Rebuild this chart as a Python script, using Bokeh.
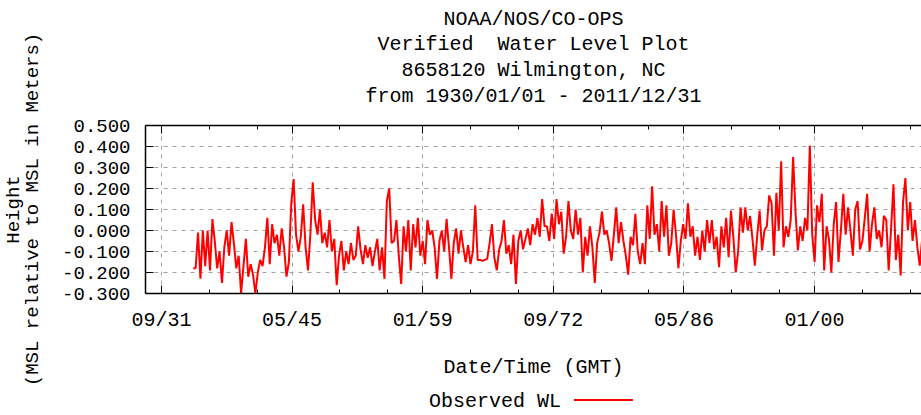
from datetime import datetime

from bokeh.plotting import figure
from bokeh.layouts import column
from bokeh.models import (Range1d, FixedTicker, DatetimeAxis, DatetimeTickFormatter,
                          PrintfTickFormatter, Title, Label, ColumnDataSource)
from bokeh.embed import file_html
from bokeh.resources import INLINE

# ---------------- data ----------------
title_lines = ["NOAA/NOS/CO-OPS", "Verified\u00a0 Water Level Plot",
               "8658120 Wilmington, NC", "from 1930/01/01 - 2011/12/31"]
x_title = "Date/Time (GMT)"
y_title = "Height\n(MSL relative to MSL in Meters)"
series_name = "Observed WL"

first_year = 1935          # quarterly values, Jan/Apr/Jul/Oct
wl_1935_1953 = [
    -0.18, -0.18, -0.01, -0.23,   0.00, -0.17, 0.00, -0.19,
    0.054, -0.05, -0.18, -0.10,   -0.25, -0.08, 0.00, -0.12,
    0.04, -0.06, -0.18, -0.12,    -0.30, -0.17, -0.04, -0.22,
    -0.16, -0.21, -0.30, -0.20,   -0.14, -0.17, -0.08, 0.06,
    -0.16, 0.03, -0.06, -0.02,    -0.12, 0.01, -0.08, -0.22,
    -0.15, 0.13, 0.245, -0.02,    -0.10, -0.03, 0.125, -0.08,
    -0.19, -0.02, 0.23, 0.05,     -0.02, 0.10, -0.06, -0.01,
    -0.08, 0.05, -0.10, -0.04,    -0.26, -0.12, -0.05, -0.19,
    -0.10, -0.16, -0.06, -0.14,   -0.12, 0.02, -0.09, -0.16,
    -0.07, -0.13, -0.08, -0.17,
]
wl_1954_1971 = [
    -0.10, -0.04, -0.19, -0.08,   -0.23, 0.14, 0.20, -0.06,
    -0.05, 0.05, -0.12, -0.255,   0.02, -0.10, 0.05, -0.19,
    0.03, -0.08, 0.06, -0.12,     -0.05, -0.16, 0.05, -0.02,
    0.00, -0.08, -0.23, -0.05,    0.00, -0.10, 0.055, -0.08,
    -0.23, -0.06, 0.01, -0.11,    0.00, -0.08, -0.15, -0.07,
    -0.16, -0.10, 0.12, -0.14,    -0.14, -0.145, -0.14, -0.135,
    -0.06, 0.03, -0.13, -0.19,    -0.09, -0.05, 0.05, -0.11,
    -0.07, -0.16, -0.02, -0.255,  -0.05, 0.00, -0.09, -0.04,
    0.01, -0.07, 0.03, -0.02,     0.06, -0.03, 0.15, 0.02,
]
wl_1972_1990 = [
    0.02, -0.05, 0.08, -0.04,     0.15, 0.03, 0.09, -0.11,
    -0.03, 0.14, 0.00, -0.04,     0.10, -0.02, 0.06, -0.20,
    -0.03, -0.12, 0.02, -0.08,    -0.25, -0.06, -0.01, 0.09,
    -0.02, 0.00, -0.06, -0.145,   -0.02, 0.11, -0.06, 0.04,
    -0.05, -0.12, -0.21, -0.03,   -0.07, 0.08, -0.10, -0.16,
    -0.06, -0.16, 0.12, -0.04,    0.21, -0.02, 0.03, -0.10,
    0.14, -0.03, 0.12, -0.12,     -0.06, 0.10, -0.02, -0.18,
    -0.05, 0.03, -0.04, 0.13,     -0.03, 0.02, -0.12, -0.03,
    -0.14, 0.00, -0.10, 0.05,     -0.06, 0.05, -0.09, -0.03,
    -0.175, 0.02, -0.08, 0.06,
]
wl_1991_2011 = [
    -0.127, 0.095, -0.03, -0.20,  -0.10, 0.11, -0.01, 0.11,
    0.00, 0.07, -0.04, -0.167,    -0.02, 0.095, -0.095, 0.00,
    0.02, 0.167, 0.13, -0.12,     0.18, 0.00, 0.33, -0.08,
    0.02, -0.03, 0.05, 0.35,      0.09, -0.095, 0.02, -0.05,
    0.06, 0.00, 0.405, -0.02,     -0.15, 0.12, 0.04, 0.175,
    -0.19, 0.02, -0.04, -0.20,    0.03, 0.135, -0.15, 0.00,
    0.175, -0.02, 0.11, 0.00,     -0.12, 0.10, 0.14, -0.09,
    -0.05, 0.06, 0.175, -0.10,    0.03, 0.11, -0.04, 0.00,
    -0.08, 0.07, 0.05, -0.19,     0.01, 0.22, -0.14, -0.02,
    -0.214, 0.135, 0.25, 0.00,    0.135, -0.05, 0.05, -0.08,
    -0.167, -0.04, -0.10, -0.02,
]
wl_values = wl_1935_1953 + wl_1954_1971 + wl_1972_1990 + wl_1991_2011

x_tick_dates = [(1931, 9), (1945, 5), (1959, 1), (1972, 9), (1986, 5), (2000, 1)]
x_tick_labels = ["09/31", "05/45", "01/59", "09/72", "05/86", "01/00"]
x_minor_dates = [(1936, 9), (1941, 9), (1950, 5), (1955, 5), (1964, 1), (1969, 1),
                 (1977, 9), (1982, 9), (1991, 5), (1996, 5), (2005, 1), (2010, 1)]
y_ticks = [-0.3, -0.2, -0.1, 0.0, 0.1, 0.2, 0.3, 0.4, 0.5]

# ---------------- helpers ----------------
EPOCH = datetime(1970, 1, 1)


def ms(d):
    return (d - EPOCH).total_seconds() * 1000.0


dates_ms = [ms(datetime(first_year + i // 4, 3 * (i % 4) + 1, 1)) for i in range(len(wl_values))]
src = ColumnDataSource(dict(date=dates_ms, wl=wl_values))

X0 = ms(datetime(1930, 1, 1))
X1 = ms(datetime(2011, 3, 8))
Y0, Y1 = -0.3, 0.5

FONT = "Liberation Mono"
W = 921
H_MAIN = 385
H_LEG = 30
FRAME_LEFT = 144

p = figure(width=W, height=H_MAIN, output_backend="svg", toolbar_location=None,
           x_axis_type="datetime",
           x_range=Range1d(X0, X1), y_range=Range1d(Y0, Y1),
           min_border_left=FRAME_LEFT, min_border_right=0, min_border_top=125,
           min_border_bottom=H_MAIN - 293,
           outline_line_color=None, background_fill_color="white", border_fill_color="white")

xticker = FixedTicker(ticks=[ms(datetime(y, m, 1)) for y, m in x_tick_dates],
                      minor_ticks=[ms(datetime(y, m, 1)) for y, m in x_minor_dates])
yticker = FixedTicker(ticks=y_ticks, minor_ticks=[])

fmt = "%m/%y"
dtf = DatetimeTickFormatter(milliseconds=fmt, seconds=fmt, minsec=fmt, minutes=fmt, hourmin=fmt,
                            hours=fmt, days=fmt, months=fmt, years=fmt)

xa = p.xaxis[0]
xa.ticker = xticker
xa.formatter = dtf
xa.major_label_overrides = {ms(datetime(y, m, 1)): lab for (y, m), lab in zip(x_tick_dates, x_tick_labels)}
xa.major_tick_in = 8
xa.major_tick_out = 0
xa.minor_tick_in = 4
xa.minor_tick_out = 0
xa.major_label_standoff = 15
xa.major_label_text_font = FONT
xa.major_label_text_font_size = "20px"
xa.major_label_text_color = "black"
xa.axis_line_color = "black"
xa.axis_line_width = 1.5
xa.axis_label = x_title
xa.axis_label_standoff = 21
xa.axis_label_text_font = FONT
xa.axis_label_text_font_size = "20px"
xa.axis_label_text_font_style = "normal"
xa.axis_label_text_color = "black"

# mirrored ticks on top; its (blank) axis label keeps a gap between the frame and the titles
top = DatetimeAxis(ticker=xticker, formatter=dtf, major_tick_in=8, major_tick_out=0,
                   minor_tick_in=4, minor_tick_out=0, major_label_text_color=None,
                   major_label_text_font_size="0px", major_label_standoff=0,
                   axis_label=" ", axis_label_standoff=3, axis_label_text_font_size="10px",
                   axis_label_text_font=FONT,
                   axis_line_color="black", axis_line_width=1.5)
p.add_layout(top, "above")

ya = p.yaxis[0]
ya.ticker = yticker
ya.formatter = PrintfTickFormatter(format="%.3f")
ya.major_tick_in = 8
ya.major_tick_out = 0
ya.minor_tick_line_color = None
ya.major_label_standoff = 15
ya.major_label_text_font = FONT
ya.major_label_text_font_size = "19px"
ya.major_label_text_color = "black"
ya.axis_line_color = "black"
ya.axis_line_width = 1.5
ya.axis_label = y_title
ya.axis_label_standoff = 15
ya.axis_label_text_font = FONT
ya.axis_label_text_font_size = "19px"
ya.axis_label_text_line_height = 0.85
ya.axis_label_text_font_style = "normal"
ya.axis_label_text_color = "black"

p.xgrid.ticker = xticker
p.ygrid.ticker = yticker
for g in (p.xgrid[0], p.ygrid[0]):
    g.grid_line_color = "#a0a0a0"
    g.grid_line_dash = "4 5"
    g.grid_line_width = 1

p.line(x="date", y="wl", source=src, line_color="#ff0000", line_width=2)

# titles, innermost first
title_offsets = [1, 8, 0.5, 2.5]
title_standoffs = [0, 1, 1, 1]
for t, off, so in reversed(list(zip(title_lines, title_offsets, title_standoffs))):
    p.add_layout(Title(text=t, align="center", vertical_align="bottom", offset=off, standoff=so,
                       text_font=FONT, text_font_size="20px", text_font_style="normal",
                       text_color="black"), "above")

# ---- legend strip below the plot (page pixel coordinates) ----
leg = figure(width=W, height=H_LEG, output_backend="svg", toolbar_location=None,
             x_range=Range1d(FRAME_LEFT, W), y_range=Range1d(H_MAIN + H_LEG, H_MAIN),
             x_axis_type=None, y_axis_type=None, min_border=0, min_border_left=FRAME_LEFT,
             outline_line_color=None, background_fill_color="white", border_fill_color="white")
leg.grid.visible = False
leg.add_layout(Label(x=560, y=400.5, text=series_name, text_align="right",
                     text_baseline="middle", text_font=FONT, text_font_size="20px",
                     text_color="black"))
leg.line(x=[573, 632], y=[399.5, 399.5], line_color="#ff0000", line_width=2)

layout = column(p, leg, spacing=0)
open("out.html", "w").write(file_html(layout, INLINE))
